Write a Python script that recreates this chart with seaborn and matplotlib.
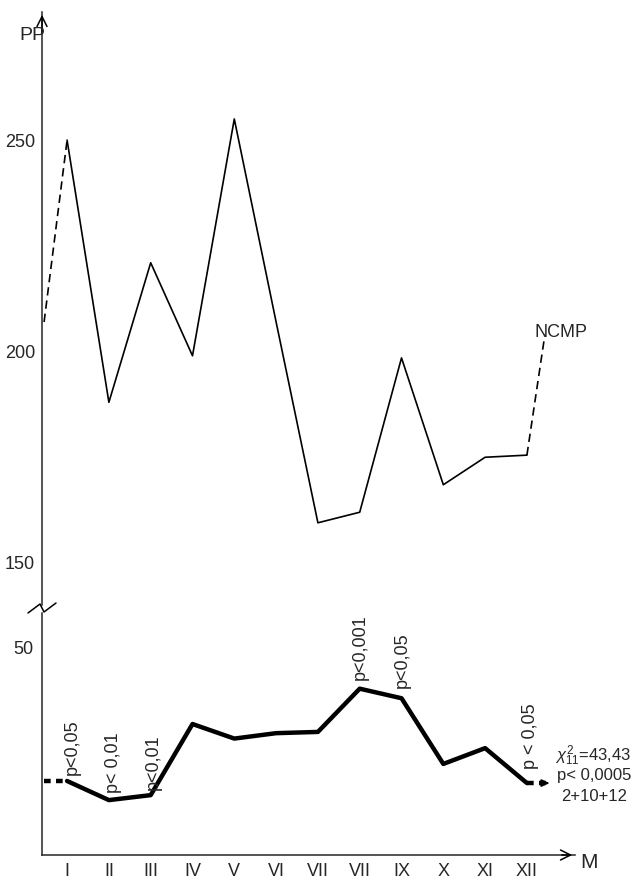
import numpy as np
import pandas as pd
import matplotlib.pyplot as plt
import seaborn as sns

# ---- data ----
months = ['I', 'II', 'III', 'IV', 'V', 'VI', 'VII', 'VII', 'IX', 'X', 'XI', 'XII']
month_pos = list(range(1, 13))

pp_values = [250, 188, 221, 199, 255, 207, 159.5, 162, 198.5, 168.5, 175, 175.5]
pp_lead_x = [0.45, 1]
pp_lead = [207, 250]
pp_tail_x = [12, 12.43]
pp_tail = [175.5, 204]

low_values = [17.8, 13.2, 14.4, 31.5, 28, 29.3, 29.6, 40, 37.7, 21.9, 25.7, 17.3]
low_lead_x = [0.45, 1]
low_lead = [17.8, 17.8]
low_tail_x = [12, 12.45]
low_tail = [17.3, 17.3]

p_labels = ['p<0,05', 'p< 0,01', 'p<0,01', 'p<0,001', 'p<0,05', 'p < 0,05']
p_months = [1, 2, 3, 8, 9, 12]
p_offsets = [(5, 6), (5, 7), (3, 5), (1, 9), (1, 10), (4, 14)]

W, H = 636, 884

sns.set_style('white')
plt.rcParams['font.family'] = ['Liberation Sans', 'DejaVu Sans']
plt.rcParams['mathtext.fontset'] = 'custom'
plt.rcParams['mathtext.it'] = 'Liberation Sans:italic'
plt.rcParams['mathtext.rm'] = 'Liberation Sans'

fig = plt.figure(figsize=(W / 100, H / 100), dpi=100)
ax_top = fig.add_axes([42 / W, 1 - 605 / H, 533 / W, (605 - 12) / H])
ax_low = fig.add_axes([42 / W, 1 - 855 / H, 533 / W, (855 - 613) / H])

df_top = pd.DataFrame({'month': month_pos, 'pp': pp_values})
df_low = pd.DataFrame({'month': month_pos, 'val': low_values})

# ==== upper panel ====
sns.lineplot(data=df_top, x='month', y='pp', ax=ax_top, color='black', lw=1.2)
sns.lineplot(x=pp_lead_x, y=pp_lead, ax=ax_top, color='black', lw=1.2, linestyle=(0, (5, 3)))
sns.lineplot(x=pp_tail_x, y=pp_tail, ax=ax_top, color='black', lw=1.2, linestyle=(0, (5, 3)))
ax_top.text(12.18, 204.5, 'NCMP', fontsize=13, va='center', ha='left')

ax_top.set_xlim(0.4, 13.15)
ax_top.set_ylim(140.06, 280.3)
ax_top.set_yticks([150, 200, 250])
ax_top.set_xticks([])
for s in ['top', 'right', 'bottom']:
    ax_top.spines[s].set_visible(False)
ax_top.spines['left'].set_linewidth(1.1)
ax_top.tick_params(axis='y', direction='inout', length=8, width=1, labelsize=13, pad=1)
ax_top.set_xlabel('')
ax_top.set_ylabel('')
ax_top.annotate('', xy=(0, 1.0), xytext=(0, 0.96), xycoords='axes fraction',
                arrowprops=dict(arrowstyle='->', lw=1.1, color='black', mutation_scale=18))
fig.text(19 / W, 1 - 36 / H, 'PP', fontsize=14, va='center', ha='left')

# ==== lower panel ====
sns.lineplot(data=df_low, x='month', y='val', ax=ax_low, color='black', lw=3.2)
sns.lineplot(x=low_lead_x, y=low_lead, ax=ax_low, color='black', lw=3.2, linestyle=(0, (1.5, 1.2)))
sns.lineplot(x=low_tail_x, y=low_tail, ax=ax_low, color='black', lw=3.2, linestyle=(0, (1.5, 1.2)))
ax_low.annotate('', xy=(12.6, 17.3), xytext=(12.4, 17.3),
                arrowprops=dict(arrowstyle='-|>', lw=1.5, color='black', mutation_scale=10))

for lab, m, off in zip(p_labels, p_months, p_offsets):
    ax_low.annotate(lab, xy=(m, low_values[m - 1]), xytext=off, textcoords='offset pixels',
                    rotation=90, ha='center', va='bottom', fontsize=13)

ax_low.text(12.67, 23.8, r'$\chi^{2}_{11}$=43,43', fontsize=12, va='center', ha='left')
ax_low.text(12.73, 19.2, 'p< 0,0005', fontsize=12, va='center', ha='left')
ax_low.text(12.83, 14.0, '2+10+12', fontsize=12, va='center', ha='left')

ax_low.set_xlim(0.4, 13.15)
ax_low.set_ylim(0, 58.2)
ax_low.set_yticks([50])
ax_low.set_xticks(month_pos)
ax_low.set_xticklabels(months)
for s in ['top', 'right']:
    ax_low.spines[s].set_visible(False)
ax_low.spines['left'].set_linewidth(1.1)
ax_low.spines['bottom'].set_linewidth(1.1)
ax_low.tick_params(axis='both', direction='inout', length=8, width=1, labelsize=13, pad=2)
ax_low.set_xlabel('')
ax_low.set_ylabel('')
ax_low.annotate('', xy=(1.0, 0), xytext=(0.97, 0), xycoords='axes fraction',
                arrowprops=dict(arrowstyle='->', lw=1.1, color='black', mutation_scale=18))
fig.text(580 / W, 1 - 862 / H, 'M', fontsize=15, va='center', ha='left')

# axis break mark
bx = np.array([28, 40, 44, 56]) / W
by = 1 - np.array([613, 604, 612, 603]) / H
fig.add_artist(plt.Line2D(bx, by, color='black', lw=1.1))

fig.savefig('out.png', dpi=100)
